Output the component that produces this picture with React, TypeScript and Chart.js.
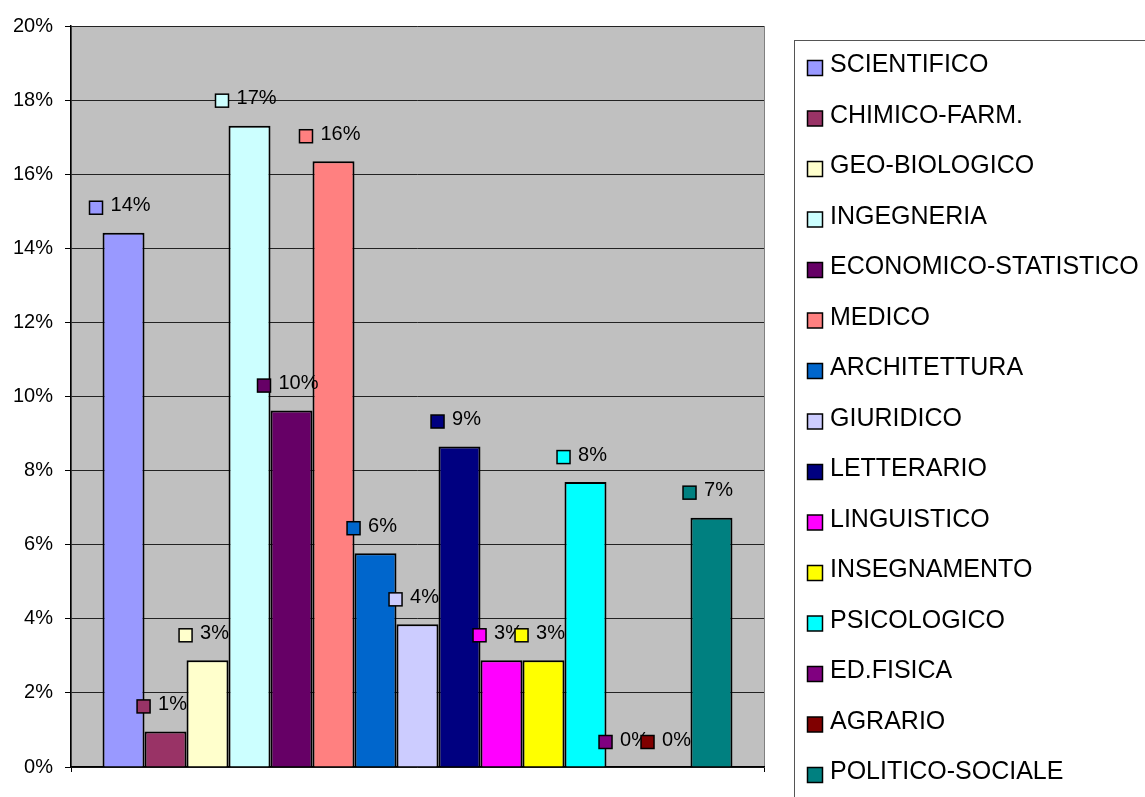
import React, { useEffect, useRef } from "react";
import { Chart, registerables } from "chart.js";

Chart.register(...registerables);

const categories = [""];
const seriesNames = [
  "SCIENTIFICO",
  "CHIMICO-FARM.",
  "GEO-BIOLOGICO",
  "INGEGNERIA",
  "ECONOMICO-STATISTICO",
  "MEDICO",
  "ARCHITETTURA",
  "GIURIDICO",
  "LETTERARIO",
  "LINGUISTICO",
  "INSEGNAMENTO",
  "PSICOLOGICO",
  "ED.FISICA",
  "AGRARIO",
  "POLITICO-SOCIALE",
];
const seriesValues = [
  0.1442, 0.0096, 0.0288, 0.1731, 0.0962, 0.1635, 0.0577, 0.0385, 0.0865,
  0.0288, 0.0288, 0.0769, 0, 0, 0.0673,
];
const seriesColors = [
  "#9999FF",
  "#993366",
  "#FFFFCC",
  "#CCFFFF",
  "#660066",
  "#FF8080",
  "#0066CC",
  "#CCCCFF",
  "#000080",
  "#FF00FF",
  "#FFFF00",
  "#00FFFF",
  "#800080",
  "#800000",
  "#008080",
];
const yTicks = [0, 0.02, 0.04, 0.06, 0.08, 0.1, 0.12, 0.14, 0.16, 0.18, 0.2];

const FONT = "'Liberation Sans', Arial, sans-serif";
const pct = (v: number) => Math.round(v * 100) + "%";

const plotBg = {
  id: "plotBg",
  beforeDraw(chart: any) {
    const { ctx, chartArea } = chart;
    ctx.save();
    ctx.fillStyle = "#C0C0C0";
    ctx.fillRect(chartArea.left, chartArea.top, chartArea.right - chartArea.left, chartArea.bottom - chartArea.top);
    ctx.restore();
  },
};

const dataLabels = {
  id: "dataLabels",
  afterDatasetsDraw(chart: any) {
    const { ctx } = chart;
    ctx.save();
    ctx.font = `20px ${FONT}`;
    chart.data.datasets.forEach((ds: any, i: number) => {
      const meta = chart.getDatasetMeta(i);
      const el = meta.data[0];
      if (!el) return;
      const text = pct(ds.data[0]);
      const tw = ctx.measureText(text).width;
      const sq = 13;
      const gap = 8;
      const gw = sq + gap + tw;
      const left = el.x - 3.5 - gw / 2;
      const cy = el.y - 25;
      ctx.fillStyle = ds.backgroundColor;
      ctx.fillRect(left, cy - sq / 2, sq, sq);
      ctx.lineWidth = 1.5;
      ctx.strokeStyle = "#000";
      ctx.strokeRect(left, cy - sq / 2, sq, sq);
      ctx.fillStyle = "#000";
      ctx.textAlign = "left";
      ctx.textBaseline = "middle";
      ctx.fillText(text, left + sq + gap, cy - 2);
    });
    ctx.restore();
  },
};

const customLegend = {
  id: "customLegend",
  afterDraw(chart: any) {
    const { ctx } = chart;
    ctx.save();
    ctx.strokeStyle = "#555";
    ctx.lineWidth = 1;
    ctx.strokeRect(794.5, 40.5, 400, 800);
    ctx.font = `25px ${FONT}`;
    chart.data.datasets.forEach((ds: any, i: number) => {
      const cy = 64.5 + i * 50.5;
      ctx.fillStyle = ds.backgroundColor;
      ctx.fillRect(807.5, cy - 4, 15, 15);
      ctx.lineWidth = 1.5;
      ctx.strokeStyle = "#000";
      ctx.strokeRect(807.5, cy - 4, 15, 15);
      ctx.fillStyle = "#000";
      ctx.textAlign = "left";
      ctx.textBaseline = "middle";
      ctx.fillText(ds.label, 830, cy + 1);
    });
    ctx.restore();
  },
};

export default function App() {
  const canvasRef = useRef<HTMLCanvasElement | null>(null);

  useEffect(() => {
    if (!canvasRef.current) return;
    const chart = new Chart(canvasRef.current, {
      type: "bar",
      data: {
        labels: categories,
        datasets: seriesNames.map((name, i) => ({
          label: name,
          data: [seriesValues[i]],
          backgroundColor: seriesColors[i],
          borderColor: "#000",
          borderWidth: 2,
          categoryPercentage: 0.909,
          barPercentage: 1,
        })),
      },
      options: {
        animation: false,
        responsive: true,
        maintainAspectRatio: false,
        layout: { padding: { top: 26, left: 0, right: 381, bottom: 25 } },
        plugins: {
          legend: { display: false },
          tooltip: { enabled: false },
        },
        scales: {
          x: {
            type: "category",
            offset: true,
            grid: {
              offset: true,
              display: true,
              color: "#808080",
              tickColor: "#000",
              tickLength: 5,
              lineWidth: 1,
            },
            border: { display: true, color: "#000", width: 1.5 },
            ticks: { display: false },
            afterFit(scale: any) {
              scale.height = 5;
            },
          },
          y: {
            min: 0,
            max: 0.2,
            afterBuildTicks(scale: any) {
              scale.ticks = yTicks.map((v) => ({ value: v }));
            },
            grid: {
              color: "#222",
              tickColor: "#000",
              tickLength: 6,
              lineWidth: 1,
            },
            border: { display: true, color: "#000", width: 1.5 },
            ticks: {
              padding: 12,
              color: "#000",
              font: { family: FONT, size: 20 },
              callback: (v: any) => pct(Number(v)),
            },
            afterFit(scale: any) {
              scale.width = 71;
            },
          },
        },
      },
      plugins: [plotBg, dataLabels, customLegend],
    });
    return () => chart.destroy();
  }, []);

  return (
    <div style={{ position: "fixed", left: 0, top: 0, width: 1145, height: 797, background: "#fff" }}>
      <canvas ref={canvasRef} />
    </div>
  );
}
